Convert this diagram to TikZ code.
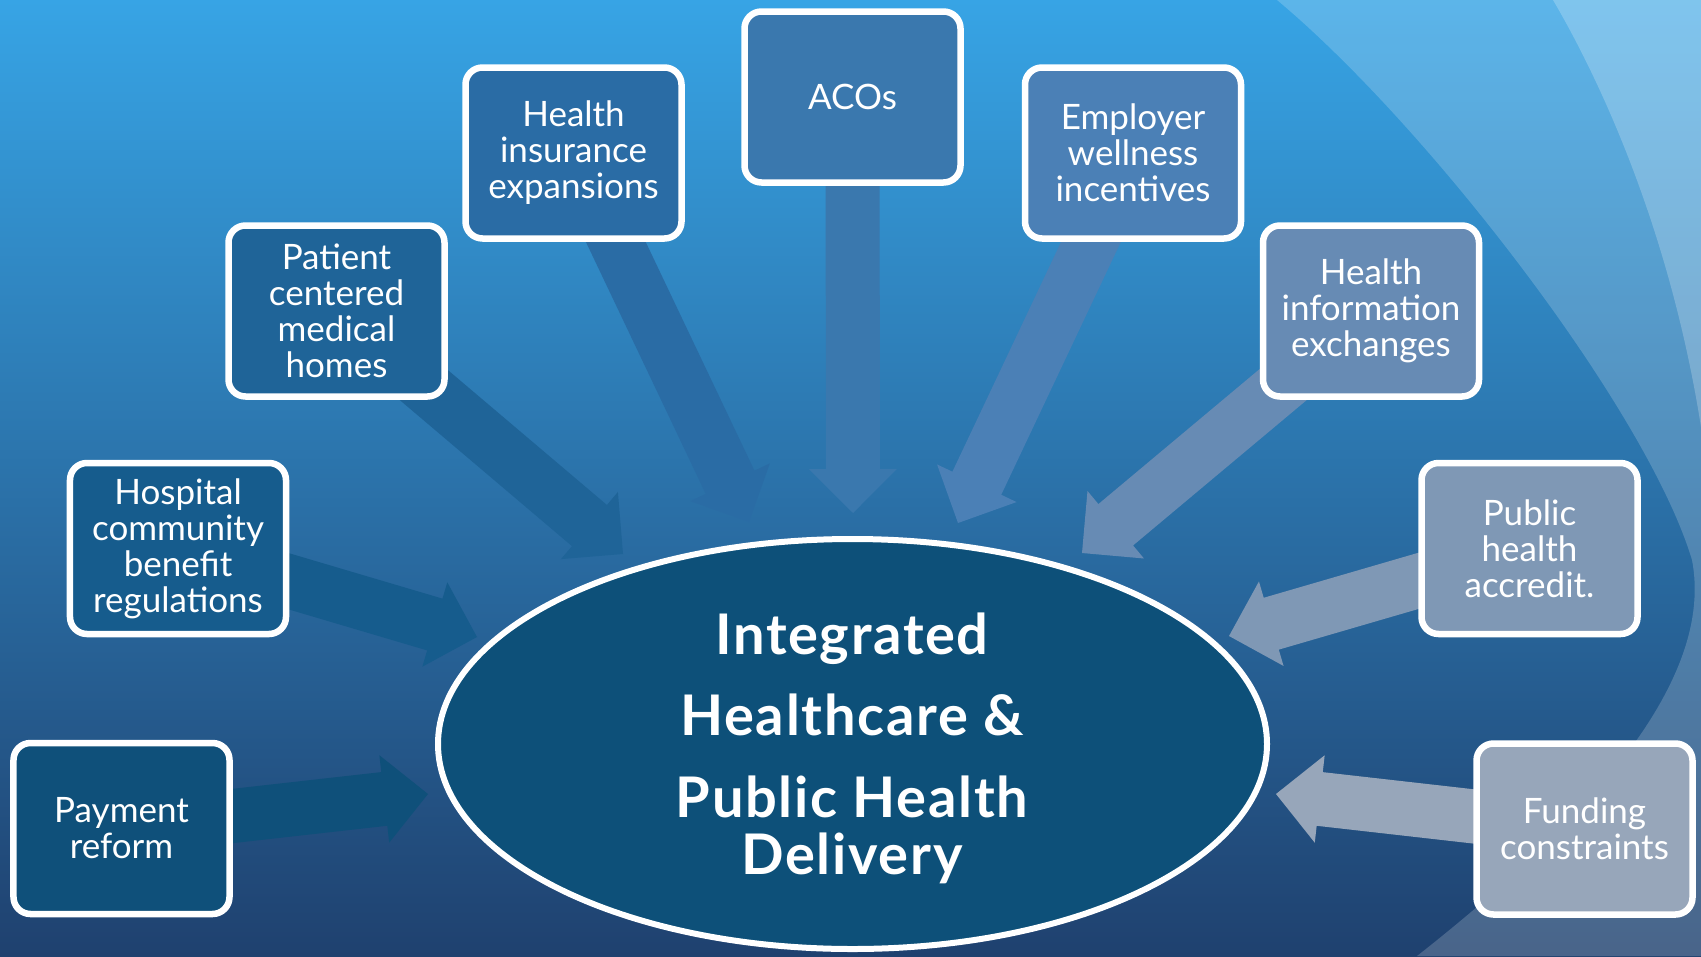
\documentclass[tikz,border=0pt]{standalone}
\usepackage{fontspec}
\setmainfont{Lato}
\usetikzlibrary{calc,shapes.geometric}

\pgfdeclarelayer{backdrop}
\pgfdeclarelayer{arrowlayer}
\pgfsetlayers{backdrop,arrowlayer,main}

\definecolor{bgtop}{HTML}{37A4E5}
\definecolor{bgmid}{HTML}{2D79B3}
\definecolor{bgbot}{HTML}{1F416F}
\definecolor{hubfill}{HTML}{0D5079}
\definecolor{cpay}{HTML}{0F507A}
\definecolor{chosp}{HTML}{165C8D}
\definecolor{cpcmh}{HTML}{1F6498}
\definecolor{cins}{HTML}{2A6CA5}
\definecolor{caco}{HTML}{3A78AE}
\definecolor{cemp}{HTML}{4B80B6}
\definecolor{chie}{HTML}{678BB4}
\definecolor{cpha}{HTML}{7F98B5}
\definecolor{cfund}{HTML}{97A6BA}

% block arrow from the centre of node #1 to the tip coordinate #2, filled with #3
\newcommand\blockarrow[3]{%
  \coordinate (#2base) at ($(#2)!44bp!(#1.center)$);
  \fill[#3] ($(#1.center)!27bp!90:(#2)$)
    -- ($(#2base)!27bp!-90:(#1.center)$)
    -- ($(#2base)!44bp!-90:(#1.center)$)
    -- (#2)
    -- ($(#2base)!44bp!90:(#1.center)$)
    -- ($(#2base)!27bp!90:(#1.center)$)
    -- ($(#1.center)!27bp!-90:(#2)$) -- cycle;
}

\tikzset{
  box/.style={draw=white, line width=6.5bp, rounded corners=17bp,
    minimum width=216bp, minimum height=171bp, inner sep=0pt,
    align=center, text=white, font=\fontsize{35bp}{36bp}\selectfont},
  titleline/.style={text=white, anchor=base, inner sep=0pt,
    font=\fontsize{56bp}{57bp}\selectfont\bfseries\addfontfeatures{LetterSpace=3}},
}

\begin{document}
\begin{tikzpicture}[x=1bp,y=-1bp]
\useasboundingbox (0,0) rectangle (1701,956);

% backdrop: vertical gradient with light swirls on the right
\begin{pgfonlayer}{backdrop}
  \shade[top color=bgtop, middle color=bgmid, bottom color=bgbot] (0,0) rectangle (1701,956);
  \fill[white, opacity=0.19] (1277,0)
    .. controls (1427,125) and (1647,410) .. (1692,560)
    .. controls (1715,680) and (1590,820) .. (1417,956)
    -- (1701,956) -- (1701,0) -- cycle;
  \fill[white, opacity=0.22] (1553,0)
    .. controls (1600,80) and (1670,230) .. (1701,427)
    -- (1701,0) -- cycle;
\end{pgfonlayer}

% surrounding boxes
\node[box, fill=cpay]  (pay)  at (121.5,828.5) {Payment\\reform};
\node[box, fill=chosp] (hosp) at (178,548.5)   {Hospital\\community\\benefit\\regulations};
\node[box, fill=cpcmh] (pcmh) at (336.5,311)   {Patient\\centered\\medical\\homes};
\node[box, fill=cins]  (ins)  at (573.5,153)   {Health\\insurance\\expansions};
\node[box, fill=caco]  (aco)  at (852.5,97)    {ACOs};
\node[box, fill=cemp]  (emp)  at (1133,153)    {Employer\\wellness\\incentives};
\node[box, fill=chie]  (hie)  at (1371,311)    {Health\\information\\exchanges};
\node[box, fill=cpha]  (pha)  at (1529.5,548.5) {Public\\health\\accredit.};
\node[box, fill=cfund] (fund) at (1584.5,829)  {Funding\\constraints};

% arrow tips around the central ellipse
\coordinate (tpay)  at (428,794);
\coordinate (thosp) at (477,637);
\coordinate (tpcmh) at (623,554);
\coordinate (tins)  at (749,522);
\coordinate (taco)  at (853,513);
\coordinate (temp)  at (958,523);
\coordinate (thie)  at (1082,553);
\coordinate (tpha)  at (1229,636);
\coordinate (tfund) at (1276,794);

\begin{pgfonlayer}{arrowlayer}
  \blockarrow{pay}{tpay}{cpay}
  \blockarrow{hosp}{thosp}{chosp}
  \blockarrow{pcmh}{tpcmh}{cpcmh}
  \blockarrow{ins}{tins}{cins}
  \blockarrow{aco}{taco}{caco}
  \blockarrow{emp}{temp}{cemp}
  \blockarrow{hie}{thie}{chie}
  \blockarrow{pha}{tpha}{cpha}
  \blockarrow{fund}{tfund}{cfund}
\end{pgfonlayer}

% central ellipse
\node[ellipse, draw=white, line width=6bp, fill=hubfill, inner sep=0pt,
  minimum width=829bp, minimum height=410bp] (hub) at (852.5,744) {};
\node[titleline] (ttl1) at (852,654) {Integrated};
\node[titleline] (ttl2) at (852,735) {Healthcare \&};
\node[titleline] (ttl3) at (852,817) {Public Health};
\node[titleline] (ttl4) at (852,874) {Delivery};
\end{tikzpicture}
\end{document}
